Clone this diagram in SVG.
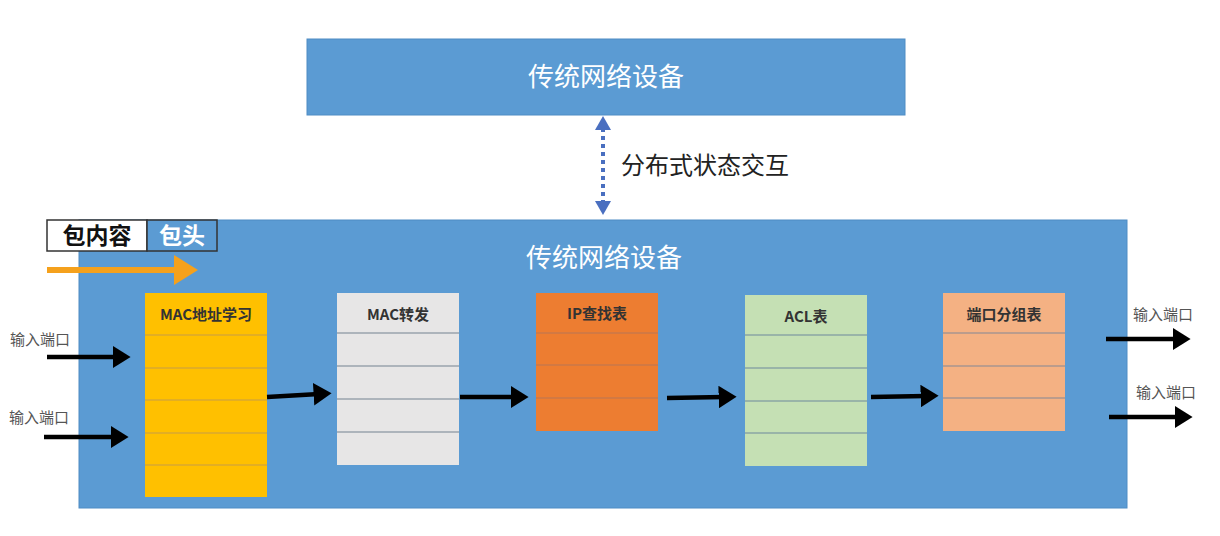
<svg xmlns="http://www.w3.org/2000/svg" width="1220" height="536" viewBox="0 0 1220 536">
  <defs>
    <style>
      .cjk { font-family: "Noto Sans CJK SC", "Noto Sans", sans-serif; }
      .dev { fill: #5b9bd3; stroke: #4f8cc4; stroke-width: 1; }
      .devtitle { font-size: 26px; fill: #ffffff; text-anchor: middle; }
      .port { font-size: 15px; fill: #555555; }
      .thead { font-size: 15px; font-weight: bold; fill: #333333; text-anchor: middle; }
      .sep { stroke-width: 1.5; }
      .flow { stroke: #000000; stroke-width: 4.5; fill: none; marker-end: url(#blackHead); }
    </style>
    <marker id="blackHead" markerWidth="5" markerHeight="5" refX="1.2" refY="2.5" orient="auto" markerUnits="strokeWidth">
      <path d="M0,0 L4,2.5 L0,5 Z" fill="#000000"/>
    </marker>
    <marker id="blueHeadEnd" markerWidth="4" markerHeight="4" refX="0.5" refY="2" orient="auto" markerUnits="strokeWidth">
      <path d="M0,0 L3.5,2 L0,4 Z" fill="#4a6fc0"/>
    </marker>
    <marker id="blueHeadStart" markerWidth="4" markerHeight="4" refX="3" refY="2" orient="auto" markerUnits="strokeWidth">
      <path d="M3.5,0 L0,2 L3.5,4 Z" fill="#4a6fc0"/>
    </marker>
    <marker id="orangeHead" markerWidth="5" markerHeight="5" refX="1" refY="2.5" orient="auto" markerUnits="strokeWidth">
      <path d="M0,0 L4,2.5 L0,5 Z" fill="#f5a11c"/>
    </marker>
  </defs>

  <rect x="0" y="0" width="1220" height="536" fill="#ffffff"/>

  <!-- upper network device -->
  <g id="device-top">
    <rect class="dev" x="307" y="39" width="598" height="76"/>
    <text class="cjk devtitle" x="606" y="86">传统网络设备</text>
  </g>

  <!-- lower network device -->
  <g id="device-main">
    <rect class="dev" x="79" y="220" width="1048" height="288"/>
    <text class="cjk devtitle" x="604" y="267">传统网络设备</text>
  </g>

  <!-- packet legend -->
  <g id="packet-legend">
    <rect x="47" y="220" width="100" height="31" fill="#ffffff" stroke="#333333" stroke-width="1.5"/>
    <rect x="147" y="220" width="70" height="31" fill="#5b9bd3" stroke="#333333" stroke-width="1.5"/>
    <text class="cjk" x="97" y="244" font-size="23" font-weight="bold" fill="#111111" text-anchor="middle">包内容</text>
    <text class="cjk" x="182" y="244" font-size="23" font-weight="bold" fill="#ffffff" text-anchor="middle">包头</text>
  </g>

  <!-- table: MAC address learning -->
  <g id="table-mac-learn">
    <rect x="145" y="293" width="122" height="204" fill="#ffc000"/>
    <g class="sep" stroke="#d9a830">
      <line x1="145" y1="335" x2="267" y2="335"/>
      <line x1="145" y1="368" x2="267" y2="368"/>
      <line x1="145" y1="400" x2="267" y2="400"/>
      <line x1="145" y1="433" x2="267" y2="433"/>
      <line x1="145" y1="465" x2="267" y2="465"/>
    </g>
    <text class="cjk thead" x="206" y="320" fill="#3d2e00">MAC地址学习</text>
  </g>

  <!-- table: MAC forwarding -->
  <g id="table-mac-fwd">
    <rect x="337" y="293" width="122" height="172" fill="#e7e6e6"/>
    <g class="sep" stroke="#9aa3ad">
      <line x1="337" y1="333" x2="459" y2="333"/>
      <line x1="337" y1="366" x2="459" y2="366"/>
      <line x1="337" y1="399" x2="459" y2="399"/>
      <line x1="337" y1="432" x2="459" y2="432"/>
    </g>
    <text class="cjk thead" x="398" y="320">MAC转发</text>
  </g>

  <!-- table: IP lookup -->
  <g id="table-ip">
    <rect x="536" y="293" width="122" height="138" fill="#ed7d31"/>
    <g class="sep" stroke="#c8794a">
      <line x1="536" y1="333" x2="658" y2="333"/>
      <line x1="536" y1="365" x2="658" y2="365"/>
      <line x1="536" y1="398" x2="658" y2="398"/>
    </g>
    <text class="cjk thead" x="597" y="319" fill="#3a1a08">IP查找表</text>
  </g>

  <!-- table: ACL -->
  <g id="table-acl">
    <rect x="745" y="295" width="122" height="171" fill="#c5e0b4"/>
    <g class="sep" stroke="#8aa6a4">
      <line x1="745" y1="335" x2="867" y2="335"/>
      <line x1="745" y1="368" x2="867" y2="368"/>
      <line x1="745" y1="401" x2="867" y2="401"/>
      <line x1="745" y1="433" x2="867" y2="433"/>
    </g>
    <text class="cjk thead" x="806" y="322" fill="#1f2e16">ACL表</text>
  </g>

  <!-- table: port groups -->
  <g id="table-port-group">
    <rect x="943" y="293" width="122" height="138" fill="#f4b183"/>
    <g class="sep" stroke="#a9968f">
      <line x1="943" y1="333" x2="1065" y2="333"/>
      <line x1="943" y1="366" x2="1065" y2="366"/>
      <line x1="943" y1="398" x2="1065" y2="398"/>
    </g>
    <text class="cjk thead" x="1004" y="320" fill="#3a1c0c">端口分组表</text>
  </g>

  <!-- port labels -->
  <g id="port-labels">
    <text class="cjk port" x="10" y="345">输入端口</text>
    <text class="cjk port" x="9" y="423">输入端口</text>
    <text class="cjk port" x="1133" y="320">输入端口</text>
    <text class="cjk port" x="1136" y="398">输入端口</text>
  </g>

  <!-- state interaction label -->
  <g id="sync-label">
    <text class="cjk" x="621" y="174" font-size="24" fill="#222222">分布式状态交互</text>
  </g>

  <!-- connectors -->
  <g id="connectors">
    <line x1="603" y1="128" x2="603" y2="203" stroke="#4a6fc0" stroke-width="4" stroke-dasharray="4,4" marker-start="url(#blueHeadStart)" marker-end="url(#blueHeadEnd)"/>
    <line x1="47" y1="270" x2="180" y2="270" stroke="#f5a11c" stroke-width="6" marker-end="url(#orangeHead)"/>
    <line class="flow" x1="47" y1="357" x2="118" y2="357"/>
    <line class="flow" x1="44" y1="437" x2="116" y2="437"/>
    <line class="flow" x1="267" y1="397" x2="319" y2="394"/>
    <line class="flow" x1="460" y1="397" x2="516" y2="397"/>
    <line class="flow" x1="667" y1="398" x2="724" y2="397"/>
    <line class="flow" x1="871" y1="397" x2="926" y2="396"/>
    <line class="flow" x1="1106" y1="339" x2="1178" y2="339"/>
    <line class="flow" x1="1109" y1="417" x2="1180" y2="417"/>
  </g>
</svg>
